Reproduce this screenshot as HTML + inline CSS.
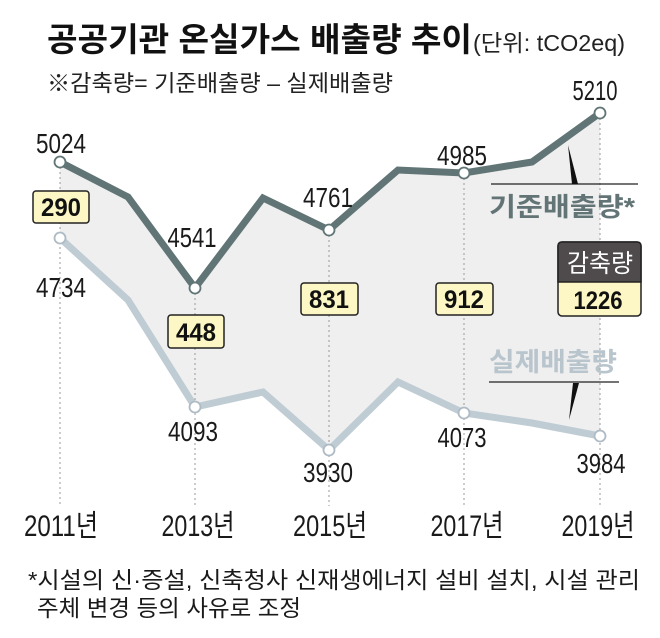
<!DOCTYPE html>
<html>
<head>
<meta charset="utf-8">
<style>
html,body{margin:0;padding:0;background:#fff;}
svg{display:block;}
text{font-family:"Liberation Sans","Noto Sans CJK KR",sans-serif;}
.k{font-family:"Liberation Sans","Noto Sans CJK KR",sans-serif;}
</style>
</head>
<body>
<svg width="660" height="638" viewBox="0 0 660 638" xmlns="http://www.w3.org/2000/svg">
<rect width="660" height="638" fill="#fff"/>

<!-- Title -->
<text x="47" y="51" font-size="33" font-weight="bold" fill="#111" textLength="425" lengthAdjust="spacingAndGlyphs">공공기관 온실가스 배출량 추이</text>
<text x="473" y="51" font-size="23" fill="#222" textLength="152" lengthAdjust="spacingAndGlyphs">(단위: tCO2eq)</text>
<text x="47" y="91" font-size="23" fill="#222" textLength="346" lengthAdjust="spacingAndGlyphs">※감축량= 기준배출량 – 실제배출량</text>

<!-- shaded area -->
<polygon fill="#efefef" points="60,162 128,197 195,288 263,198 329,230 398,170 464,173 532,162 600,113 600,436 532,423 464,413 398,382 329,450 263,392 195,407 128,300 60,238"/>

<!-- dotted verticals -->
<g stroke="#9a9a9a" stroke-width="1" stroke-dasharray="2,3">
<line x1="60" y1="162" x2="60" y2="506"/>
<line x1="195" y1="288" x2="195" y2="506"/>
<line x1="329" y1="230" x2="329" y2="506"/>
<line x1="464" y1="173" x2="464" y2="506"/>
<line x1="600" y1="113" x2="600" y2="506"/>
</g>

<!-- lines -->
<polyline fill="none" stroke="#bfccd4" stroke-width="7" stroke-linejoin="miter" points="60,238 128,300 195,407 263,392 329,450 398,382 464,413 532,423 600,436"/>
<polyline fill="none" stroke="#617576" stroke-width="7" stroke-linejoin="miter" points="60,162 128,197 195,288 263,198 329,230 398,170 464,173 532,162 600,113"/>

<!-- markers -->
<g fill="#fff" stroke="#617576" stroke-width="1.8">
<circle cx="60" cy="162" r="5.5"/>
<circle cx="195" cy="288" r="5.5"/>
<circle cx="329" cy="230" r="5.5"/>
<circle cx="464" cy="173" r="5.5"/>
<circle cx="600" cy="113" r="5.5"/>
</g>
<g fill="#fff" stroke="#aebbc4" stroke-width="1.8">
<circle cx="60" cy="238" r="5.5"/>
<circle cx="195" cy="407" r="5.5"/>
<circle cx="329" cy="450" r="5.5"/>
<circle cx="464" cy="413" r="5.5"/>
<circle cx="600" cy="436" r="5.5"/>
</g>

<!-- value labels -->
<g font-size="28" fill="#1a1a1a" text-anchor="middle">
<text x="61" y="153" textLength="50" lengthAdjust="spacingAndGlyphs">5024</text>
<text x="61" y="297" textLength="50" lengthAdjust="spacingAndGlyphs">4734</text>
<text x="192" y="247" textLength="49" lengthAdjust="spacingAndGlyphs">4541</text>
<text x="328" y="207" textLength="50" lengthAdjust="spacingAndGlyphs">4761</text>
<text x="462" y="165" textLength="50" lengthAdjust="spacingAndGlyphs">4985</text>
<text x="595" y="100" textLength="45" lengthAdjust="spacingAndGlyphs">5210</text>
<text x="193" y="441" textLength="50" lengthAdjust="spacingAndGlyphs">4093</text>
<text x="328" y="482" textLength="50" lengthAdjust="spacingAndGlyphs">3930</text>
<text x="462" y="447" textLength="49" lengthAdjust="spacingAndGlyphs">4073</text>
<text x="601" y="473" textLength="49" lengthAdjust="spacingAndGlyphs">3984</text>
</g>

<!-- reduction boxes -->
<g fill="#fcf7c4" stroke="#222" stroke-width="1.5">
<rect x="33" y="191" width="56" height="32" rx="3"/>
<rect x="168" y="315" width="56" height="33" rx="3"/>
<rect x="301" y="283" width="57" height="32" rx="3"/>
<rect x="436" y="283" width="57" height="32" rx="3"/>
<rect x="558" y="242" width="83" height="74" rx="4"/>
</g>
<path d="M558,282 L558,246 Q558,242 562,242 L637,242 Q641,242 641,246 L641,282 Z" fill="#4f4b4c" stroke="#222" stroke-width="1.5"/>
<g font-size="25" font-weight="bold" fill="#111" text-anchor="middle">
<text x="61" y="216" textLength="40" lengthAdjust="spacingAndGlyphs">290</text>
<text x="196" y="341" textLength="40" lengthAdjust="spacingAndGlyphs">448</text>
<text x="329" y="308" textLength="40" lengthAdjust="spacingAndGlyphs">831</text>
<text x="464" y="308" textLength="40" lengthAdjust="spacingAndGlyphs">912</text>
<text x="598" y="309" textLength="49" lengthAdjust="spacingAndGlyphs">1226</text>
</g>
<text x="600" y="272" font-size="25" fill="#fff" text-anchor="middle" textLength="66" lengthAdjust="spacingAndGlyphs">감축량</text>

<!-- series labels -->
<line x1="491" y1="184" x2="638" y2="184" stroke="#222" stroke-width="1.2"/>
<polygon points="568,145 572,184 578,184" fill="#111"/>
<text x="489" y="216" font-size="26" font-weight="bold" fill="#627475" textLength="146" lengthAdjust="spacingAndGlyphs">기준배출량*</text>

<text x="489" y="371" font-size="26" font-weight="bold" fill="#b9c5cd" textLength="128" lengthAdjust="spacingAndGlyphs">실제배출량</text>
<line x1="489" y1="382" x2="619" y2="382" stroke="#222" stroke-width="1.2"/>
<polygon points="573,383 579,383 569,420" fill="#111"/>

<!-- year labels -->
<g font-size="30" fill="#1a1a1a" text-anchor="middle">
<text x="61" y="536" textLength="74" lengthAdjust="spacingAndGlyphs">2011년</text>
<text x="198" y="536" textLength="73" lengthAdjust="spacingAndGlyphs">2013년</text>
<text x="330" y="536" textLength="74" lengthAdjust="spacingAndGlyphs">2015년</text>
<text x="467" y="536" textLength="73" lengthAdjust="spacingAndGlyphs">2017년</text>
<text x="598" y="536" textLength="73" lengthAdjust="spacingAndGlyphs">2019년</text>
</g>

<!-- footnote -->
<text x="28" y="588" font-size="23" fill="#1a1a1a" textLength="612" lengthAdjust="spacingAndGlyphs">*시설의 신·증설, 신축청사 신재생에너지 설비 설치, 시설 관리</text>
<text x="37" y="616" font-size="23" fill="#1a1a1a" textLength="264" lengthAdjust="spacingAndGlyphs">주체 변경 등의 사유로 조정</text>
</svg>
</body>
</html>
